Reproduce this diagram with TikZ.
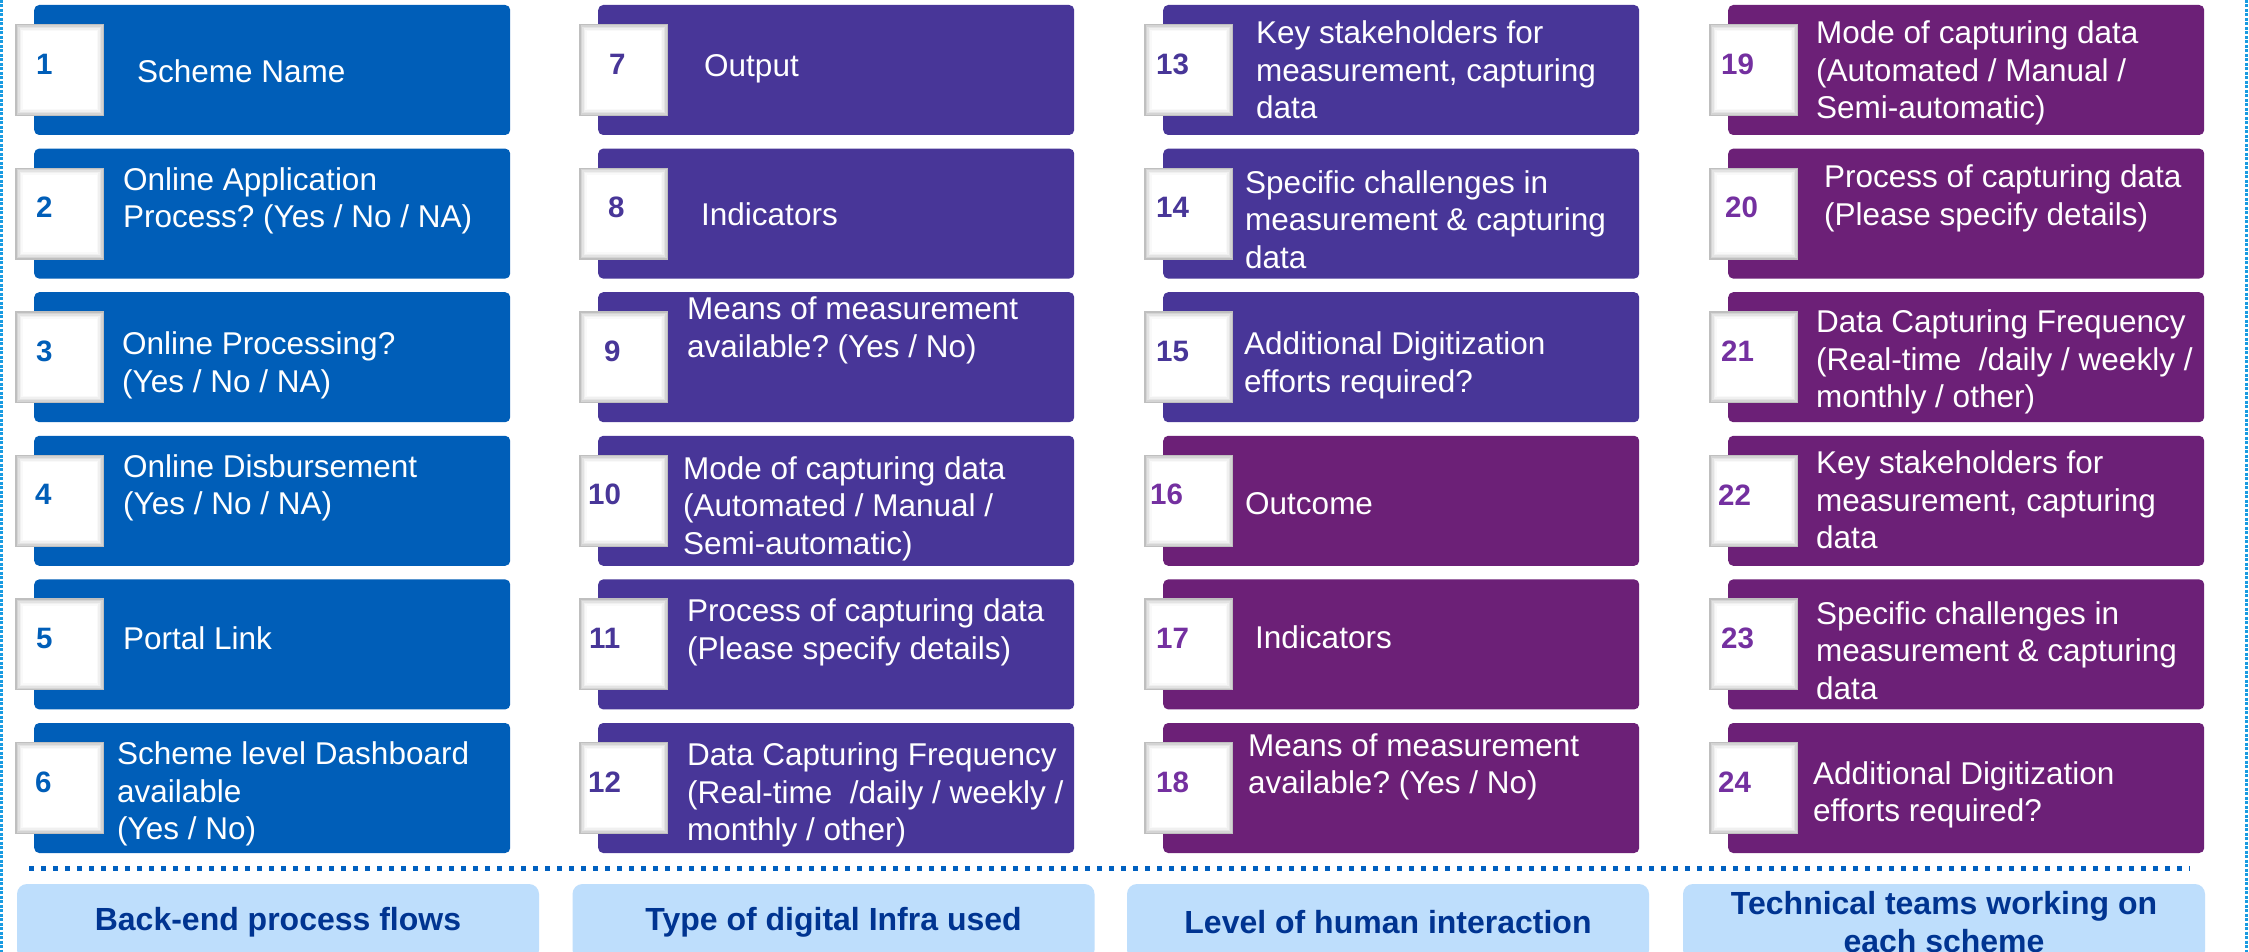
\documentclass[tikz,border=0pt]{standalone}
\usepackage{fontspec}
\setmainfont{Liberation Sans}
\frenchspacing
\definecolor{cblue}{RGB}{0,94,184}
\definecolor{cindigo}{RGB}{72,54,152}
\definecolor{cpurple}{RGB}{108,32,119}
\definecolor{nblue}{RGB}{0,94,184}
\definecolor{nindigo}{RGB}{72,54,152}
\definecolor{npurple}{RGB}{116,48,160}
\definecolor{lblfill}{RGB}{190,222,252}
\definecolor{lbltext}{RGB}{0,52,145}
\definecolor{dotblue}{RGB}{0,96,192}
\definecolor{edgeblue}{RGB}{25,155,225}
\tikzset{
 card/.style={rectangle, rounded corners=5pt, minimum width=476pt, minimum height=130pt, inner sep=0pt, anchor=west},
 sqbox/.style={rectangle, minimum width=89pt, minimum height=92pt, inner sep=0pt, fill=gray!50, anchor=west},
 cardtxt/.style={text=white, font=\frenchspacing\fontsize{31.5}{37.5}\selectfont, align=left, anchor=west, inner sep=0pt},
 numtxt/.style={font=\bfseries\fontsize{29.5}{34}\selectfont, anchor=west, inner sep=0pt},
 lbl/.style={rectangle, rounded corners=10pt, fill=lblfill, minimum width=522pt, minimum height=76pt, inner sep=0pt, text=lbltext, font=\bfseries\fontsize{32}{38}\selectfont, align=center},
}
\newcommand{\mkcard}[9]{%
 \node[card, fill=#4] (c#1) at (#2, {70+143.6*#3}) {};
 \node[sqbox] (s#1) at (#2-19, {70+143.6*#3}) {};
 \foreach \shd/\shg in {1.5/34, 3/22, 4.5/12, 6/5, 7.5/0} {
   \fill[gray!\shg] ([shift={(\shd,\shd)}]s#1.north west) rectangle ([shift={(-\shd,-\shd)}]s#1.south east);
 }
 \node[numtxt, text=#5] (n#1) at (#6, {70+143.6*#3-6}) {#1};
 \node[cardtxt] (t#1) at (#7, {70+143.6*#3+#8}) {#9};
}
\begin{document}
\begin{tikzpicture}[x=1pt,y=-1pt]
\clip (0,0) rectangle (2249,952);
\fill[white] (0,0) rectangle (2249,952);
\draw[edgeblue, line width=3pt, dash pattern=on 3pt off 1.5pt] (1.5,0) -- (1.5,952);
\draw[edgeblue, line width=3pt, dash pattern=on 3pt off 1.5pt] (2246,0) -- (2246,952);
% column 1
\mkcard{1}{34}{0}{cblue}{nblue}{36}{137}{1}{Scheme Name}
\mkcard{2}{34}{1}{cblue}{nblue}{36}{123}{-13}{Online Application\\Process? (Yes / No / NA)}
\mkcard{3}{34}{2}{cblue}{nblue}{36}{122}{8}{Online Processing?\\(Yes / No / NA)}
\mkcard{4}{34}{3}{cblue}{nblue}{35}{123}{-13}{Online Disbursement\\(Yes / No / NA)}
\mkcard{5}{34}{4}{cblue}{nblue}{36}{123}{-6}{Portal Link}
\mkcard{6}{34}{5}{cblue}{nblue}{35}{117}{6}{Scheme level Dashboard\\available\\(Yes / No)}
% column 2
\mkcard{7}{598}{0}{cindigo}{nindigo}{609}{704}{-1}{Output}
\mkcard{8}{598}{1}{cindigo}{nindigo}{608}{701}{1}{Indicators}
\mkcard{9}{598}{2}{cindigo}{nindigo}{604}{687}{-27}{Means of measurement\\available? (Yes / No)}
\mkcard{10}{598}{3}{cindigo}{nindigo}{588}{683}{8}{Mode of capturing data\\(Automated / Manual /\\Semi-automatic)}
\mkcard{11}{598}{4}{cindigo}{nindigo}{589}{687}{-12}{Process of capturing data\\(Please specify details)}
\mkcard{12}{598}{5}{cindigo}{nindigo}{588}{687}{7}{Data Capturing Frequency\\(Real-time\ \ /daily / weekly /\\monthly / other)}
% column 3
\mkcard{13}{1163}{0}{cindigo}{nindigo}{1156}{1256}{0}{Key stakeholders for\\measurement, capturing\\data}
\mkcard{14}{1163}{1}{cindigo}{nindigo}{1156}{1245}{6}{Specific challenges in\\measurement \& capturing\\data}
\mkcard{15}{1163}{2}{cindigo}{nindigo}{1156}{1244}{8}{Additional Digitization\\efforts required?}
\mkcard{16}{1163}{3}{cpurple}{npurple}{1150}{1245}{3}{Outcome}
\mkcard{17}{1163}{4}{cpurple}{npurple}{1156}{1255}{-7}{Indicators}
\mkcard{18}{1163}{5}{cpurple}{npurple}{1156}{1248}{-21}{Means of measurement\\available? (Yes / No)}
% column 4
\mkcard{19}{1728}{0}{cpurple}{npurple}{1721}{1816}{3}{Mode of capturing data\\(Automated / Manual /\\Semi-automatic)}
\mkcard{20}{1728}{1}{cpurple}{npurple}{1725}{1824}{-15}{Process of capturing data\\(Please specify details)}
\mkcard{21}{1728}{2}{cpurple}{npurple}{1721}{1816}{5}{Data Capturing Frequency\\(Real-time\ \ /daily / weekly /\\monthly / other)}
\mkcard{22}{1728}{3}{cpurple}{npurple}{1718}{1816}{-1}{Key stakeholders for\\measurement, capturing\\data}
\mkcard{23}{1728}{4}{cpurple}{npurple}{1721}{1816}{6}{Specific challenges in\\measurement \& capturing\\data}
\mkcard{24}{1728}{5}{cpurple}{npurple}{1718}{1813}{7}{Additional Digitization\\efforts required?}
% separator
\draw[dotblue, line width=5pt, dash pattern=on 5pt off 7pt] (29,868) -- (2190,868);
% labels
\node[lbl] (L1) at (278,922) {Back-end process flows};
\node[lbl] (L2) at (833.5,922) {Type of digital Infra used};
\node[lbl] (L3) at (1388,922) {Level of human interaction};
\node[lbl] (L4) at (1944,922) {Technical teams working on\\each scheme};
\end{tikzpicture}
\end{document}
